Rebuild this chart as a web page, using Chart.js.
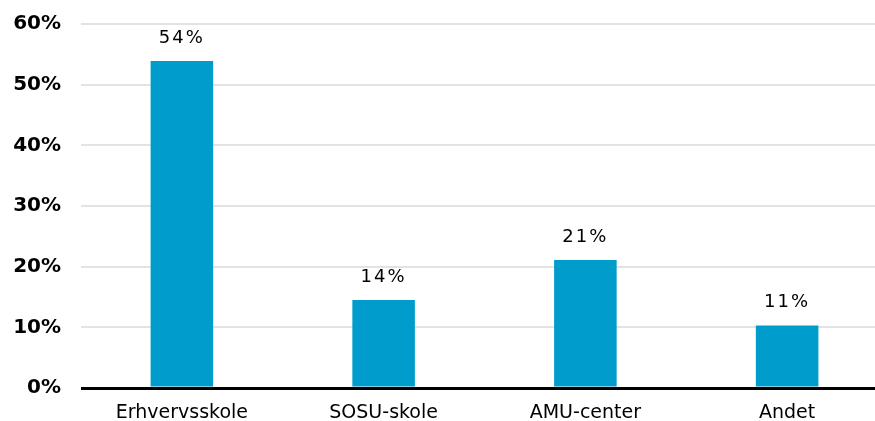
<!DOCTYPE html>
<html lang="da">
<head>
  <meta charset="UTF-8">
  <title>Uddannelsessted</title>
  <script src="https://cdn.jsdelivr.net/npm/chart.js"></script>
  <style>
    html, body { margin: 0; padding: 0; background: #fff; overflow: hidden; }
    #wrap { width: 888px; height: 421px; position: relative; }
  </style>
</head>
<body>
  <div id="wrap"><canvas id="bars"></canvas></div>

  <script>
    // data
    const categories = ["Erhvervsskole", "SOSU-skole", "AMU-center", "Andet"];
    const shares = [53.9, 14.5, 21.1, 10.3];
    const shareLabels = ["54%", "14%", "21%", "11%"];
    const yTicks = [0, 10, 20, 30, 40, 50, 60];

    const blue = "#009dcc";
    const font = "'DejaVu Sans', Verdana, sans-serif";

    // value labels over the bars
    const barLabels = {
      id: "barLabels",
      afterDatasetsDraw(chart) {
        const ctx = chart.ctx;
        const meta = chart.getDatasetMeta(0);
        ctx.save();
        ctx.font = "18px " + font;
        ctx.fillStyle = "#000";
        ctx.textAlign = "center";
        ctx.textBaseline = "middle";
        ctx.letterSpacing = "2px";
        meta.data.forEach((bar, i) => {
          ctx.fillText(shareLabels[i], bar.x, bar.y - 23);
        });
        ctx.restore();
      }
    };

    new Chart("bars", {
      type: "bar",
      data: {
        labels: categories,
        datasets: [{
          data: shares,
          backgroundColor: blue,
          barPercentage: 0.31,
          categoryPercentage: 1
        }]
      },
      plugins: [barLabels],
      options: {
        responsive: true,
        maintainAspectRatio: false,
        animation: false,
        layout: { padding: { top: 24, right: 0, bottom: 0, left: 0 } },
        plugins: { legend: { display: false }, tooltip: { enabled: false } },
        scales: {
          x: {
            grid: { display: false, drawTicks: false },
            border: { display: false },
            ticks: {
              color: "#000",
              font: { family: font, size: 19 },
              padding: 14
            },
            afterFit(s) { s.height = 33; }
          },
          y: {
            min: 0,
            max: 60,
            afterBuildTicks(s) { s.ticks = yTicks.map(v => ({ value: v })); },
            grid: {
              drawTicks: false,
              color: c => c.tick && c.tick.value === 0 ? "#000" : "#e3e3e3",
              lineWidth: c => c.tick && c.tick.value === 0 ? 3 : 2
            },
            border: { display: false },
            ticks: {
              color: "#000",
              font: { family: font, size: 20, weight: "bold" },
              padding: 20,
              callback: v => v + "%"
            },
            afterFit(s) {
              s.width = 81;
              s.paddingTop = 0;
              s.paddingBottom = 0;
            }
          }
        }
      }
    });
  </script>
</body>
</html>
